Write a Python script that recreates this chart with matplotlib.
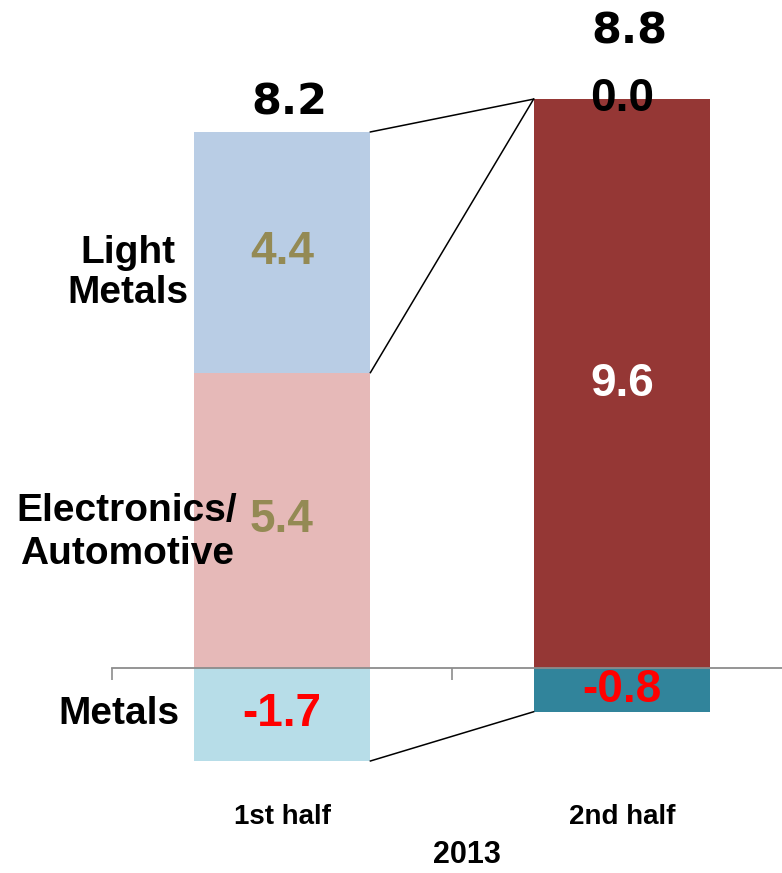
import matplotlib
matplotlib.use("Agg")
import matplotlib.pyplot as plt
import numpy as np

# ---- data ----
periods = ["1st half", "2nd half"]
segment_names = ["Metals", "Electronics/\nAutomotive", "Light\nMetals"]
h1_values = [-1.7, 5.4, 4.4]          # 1st half segments (bottom -> top)
h2_values = [-0.8, 10.4]              # 2nd half segments as drawn (bottom -> top)
h1_labels = ["-1.7", "5.4", "4.4"]
h2_labels = ["-0.8", "9.6", "0.0"]
totals = ["8.2", "8.8"]
year = "2013"

h1_colors = ["#B7DDE8", "#E6B9B8", "#B9CDE5"]
h2_colors = ["#31849B", "#953735"]
h1_text_colors = ["#FF0000", "#948A54", "#948A54"]
h2_text_colors = ["#FF0000", "#FFFFFF", "#000000"]

FONT = ["Liberation Sans", "DejaVu Sans"]

W, H = 782, 873
fig = plt.figure(figsize=(W / 100, H / 100), dpi=100)
ax = fig.add_axes([112 / W, 0, (W - 112) / W, 1])

zero_px = 668
ppu = 54.7
bw = 0.52

def stack(ax, x, vals, colors):
    pos_base = 0.0
    neg_base = 0.0
    tops = []
    for v, c in zip(vals, colors):
        if v >= 0:
            ax.bar(x, v, bottom=pos_base, width=bw, color=c, edgecolor="none", zorder=2)
            tops.append((pos_base, pos_base + v))
            pos_base += v
        else:
            ax.bar(x, v, bottom=neg_base, width=bw, color=c, edgecolor="none", zorder=2)
            tops.append((neg_base, neg_base + v))
            neg_base += v
    return tops

seg1 = stack(ax, 0, h1_values, h1_colors)
seg2 = stack(ax, 1, h2_values, h2_colors)

# value labels
for (b, t), lab, tc in zip(seg1, h1_labels, h1_text_colors):
    ax.text(0, (b + t) / 2, lab, ha="center", va="center", fontsize=33,
            fontweight="bold", color=tc, family=FONT, zorder=4)
for (b, t), lab, tc in zip(seg2, h2_labels[:2], h2_text_colors[:2]):
    ax.text(1, (b + t) / 2, lab, ha="center", va="center", fontsize=33,
            fontweight="bold", color=tc, family=FONT, zorder=4)
top2 = seg2[-1][1]
top1 = seg1[-1][1]
ax.text(1, top2, h2_labels[2], ha="center", va="center", fontsize=33,
        fontweight="bold", color=h2_text_colors[2], family=FONT, zorder=4)

# totals
ax.annotate(totals[0], (0, top1), xytext=(5, 21.5), textcoords="offset points",
            ha="center", va="center", fontsize=31, fontweight="bold",
            family=["DejaVu Sans"], color="black")
ax.annotate(totals[1], (1, top2), xytext=(5, 49), textcoords="offset points",
            ha="center", va="center", fontsize=31, fontweight="bold",
            family=["DejaVu Sans"], color="black")

# connector lines
x1r = 0 + bw / 2
x2l = 1 - bw / 2
bot1 = seg1[0][1]
bot2 = seg2[0][1]
ax.plot([x1r, x2l], [top1, top2], color="black", lw=1.1, zorder=3)
ax.plot([x1r, x2l], [seg1[1][1], top2], color="black", lw=1.1, zorder=3)
ax.plot([x1r, x2l], [bot1, bot2], color="black", lw=1.1, zorder=3)

# axis styling
for s in ["top", "right", "left"]:
    ax.spines[s].set_visible(False)
ax.spines["bottom"].set_position(("data", 0))
ax.spines["bottom"].set_color("#8C8C8C")
ax.spines["bottom"].set_linewidth(1.3)
ax.spines["bottom"].set_zorder(3)
ax.set_yticks([])
ax.set_xticks([0, 1])
ax.set_xticklabels(periods, fontsize=20, fontweight="bold", family=FONT)
ax.set_xticks([-0.5, 0.5, 1.5], minor=True)
ax.tick_params(axis="x", which="major", length=0, pad=98)
ax.tick_params(axis="x", which="minor", length=8.5, width=1.2, color="#8C8C8C")
ax.set_facecolor("none")

# limits (set after ticks so ticks do not expand the view)
ax.set_ylim((zero_px - H) / ppu, zero_px / ppu)
ax.set_xlim(-0.5, 1.5 - 10 / 340)

# segment names
fig.text(128 / W, 1 - 273 / H, segment_names[2], ha="center", va="center",
         fontsize=28, fontweight="bold", family=FONT, linespacing=1.15)
fig.text(127 / W, 1 - 533 / H, segment_names[1], ha="center", va="center",
         fontsize=28, fontweight="bold", family=FONT, linespacing=1.25)
fig.text(119 / W, 1 - 714 / H, segment_names[0], ha="center", va="center",
         fontsize=28, fontweight="bold", family=FONT)

fig.text(467 / W, 1 - 855 / H, year, ha="center", va="center",
         fontsize=22, fontweight="bold", family=FONT)

fig.savefig("out.png", dpi=100)
